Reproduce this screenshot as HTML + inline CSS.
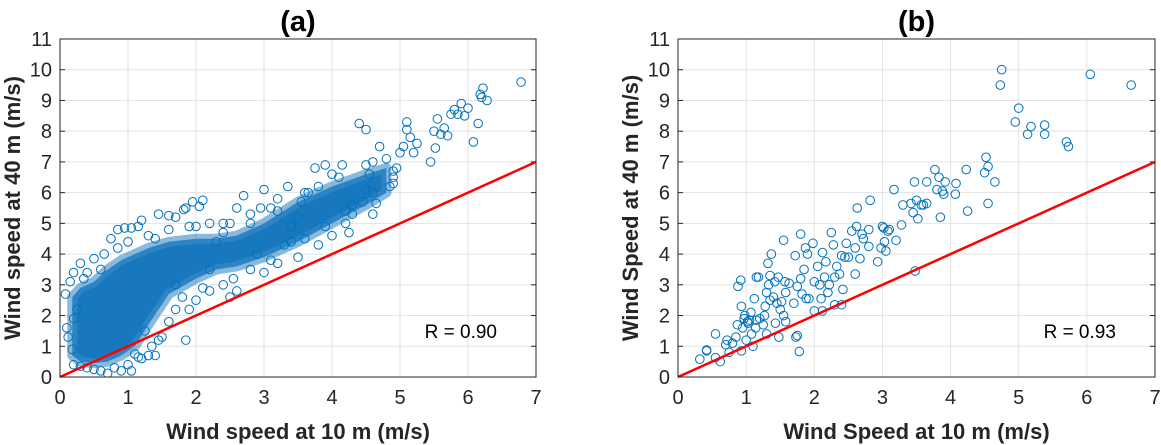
<!DOCTYPE html>
<html><head><meta charset="utf-8"><style>
html,body{margin:0;padding:0;background:#fff;}
svg{display:block;font-family:"Liberation Sans",sans-serif;}
</style></head><body>
<svg id="chart" width="1161" height="445" viewBox="0 0 1161 445" xmlns="http://www.w3.org/2000/svg"></svg>
<script>
const xTicks=[0,1,2,3,4,5,6,7];
const yTicks=[0,1,2,3,4,5,6,7,8,9,10,11];
const panelTitles=["(a)","(b)"];
const xTitles=["Wind speed at 10 m (m/s)","Wind Speed at 10 m (m/s)"];
const yTitles=["Wind speed at 40 m (m/s)","Wind Speed at 40 m (m/s)"];
const rLabels=["R = 0.90","R = 0.93"];
// dense core of panel a: [x, yLow, yHigh]
const coreBandA=[[0.18,0.7,2.6],[0.3,0.5,2.9],[0.5,0.45,3.1],[0.7,0.5,3.5],[0.9,0.7,3.8],[1.1,1.0,4.0],[1.3,1.7,4.2],[1.6,2.7,4.4],[2.0,3.2,4.5],[2.3,3.5,4.5],[2.6,3.6,4.6],[3.0,3.9,5.0],[3.5,4.4,5.7],[4.0,5.0,6.2],[4.5,5.6,6.6],[4.8,6.0,6.8]];
const seriesA=[[6.78,9.6],[6.22,9.4],[6.18,9.2],[6.28,9.0],[6.2,9.1],[6.0,8.75],[5.95,8.5],[5.9,8.9],[5.85,8.55],[5.8,8.7],[5.75,8.55],[5.55,8.4],[5.5,8.0],[5.6,7.9],[5.65,8.1],[5.7,7.85],[6.15,8.25],[6.08,7.65],[5.52,7.45],[5.45,7.0],[5.25,7.6],[5.2,7.3],[5.15,7.8],[5.1,8.3],[5.1,8.05],[5.05,7.5],[5.0,7.3],[4.95,6.8],[4.9,6.5],[4.85,6.2],[4.7,7.5],[4.6,7.0],[4.55,6.6],[4.5,6.1],[4.45,5.7],[4.4,8.25],[4.5,8.05],[4.6,5.3],[4.65,5.65],[4.3,5.3],[4.25,4.7],[4.2,5.0],[4.15,6.9],[4.0,6.6],[3.9,6.9],[3.75,6.8],[3.8,6.2],[3.65,6.0],[3.55,5.7],[3.5,5.2],[3.4,4.9],[3.35,6.2],[3.2,5.8],[3.1,5.5],[3.0,6.1],[2.95,5.5],[2.8,5.3],[2.7,5.9],[2.6,5.5],[2.5,5.0],[2.4,4.7],[2.3,4.4],[2.2,5.0],[2.1,5.75],[2.05,5.55],[1.95,5.7],[1.9,4.9],[1.85,5.5],[1.82,5.45],[1.7,5.2],[1.6,5.25],[1.45,5.3],[1.4,4.5],[1.2,5.1],[1.15,4.9],[1.05,4.85],[0.95,4.85],[0.85,4.8],[0.75,4.5],[0.65,4.0],[0.5,3.85],[0.4,3.4],[0.3,3.7],[0.2,3.4],[0.15,3.1],[0.08,2.7],[0.1,1.6],[0.12,1.3],[0.18,0.9],[0.2,0.4],[0.3,0.35],[0.4,0.3],[0.5,0.25],[0.6,0.2],[0.7,0.12],[0.8,0.3],[0.9,0.2],[1.0,0.4],[1.05,0.2],[1.1,0.75],[1.15,0.65],[1.2,0.6],[1.3,0.7],[1.4,0.7],[1.45,1.2],[1.5,1.3],[1.85,1.2],[1.6,1.8],[1.9,2.2],[2.0,2.5],[2.2,2.8],[2.4,3.0],[2.6,2.8],[2.8,3.5],[3.0,3.4],[3.2,3.7],[3.5,3.9],[3.8,4.3],[4.0,4.6],[4.2,5.4],[2.55,3.2],[2.5,2.6],[3.6,4.5],[3.3,4.3],[3.1,3.8],[1.7,2.2],[1.8,2.6],[2.1,2.9],[1.35,1.0],[1.25,1.5],[0.25,2.2],[0.2,1.9],[0.35,3.2],[0.6,3.5],[0.85,4.2],[1.0,4.4],[1.3,4.6],[1.6,4.8],[2.0,4.9],[2.4,5.0],[2.8,5.0],[3.2,5.4],[3.6,6.0],[4.1,6.5],[4.5,6.9],[4.8,7.1],[4.9,6.7],[4.9,6.3],[4.6,6.0],[4.3,5.6],[3.9,4.9],[3.4,4.4],[2.9,4.0],[2.2,3.5],[1.7,3.0]];
const seriesB=[[0.32,0.58],[0.42,0.88],[0.42,0.85],[0.55,1.4],[0.55,0.63],[0.62,0.5],[0.7,1.05],[0.72,1.2],[0.75,0.8],[0.8,1.1],[0.85,1.3],[0.87,1.7],[0.88,2.95],[0.92,3.15],[0.93,2.3],[0.93,0.85],[0.95,1.6],[0.97,1.9],[0.98,2.0],[1.0,1.2],[1.02,1.8],[1.03,1.75],[1.05,1.85],[1.07,2.1],[1.08,1.4],[1.1,1.0],[1.12,2.55],[1.14,1.6],[1.15,1.85],[1.15,3.25],[1.18,3.25],[1.2,1.9],[1.25,1.7],[1.27,2.0],[1.28,2.3],[1.3,2.75],[1.3,1.4],[1.32,3.7],[1.33,3.0],[1.35,3.3],[1.35,2.5],[1.37,4.0],[1.4,2.6],[1.42,3.1],[1.43,1.75],[1.45,2.4],[1.47,3.25],[1.48,1.3],[1.5,2.2],[1.52,2.45],[1.55,4.45],[1.55,2.0],[1.57,3.1],[1.58,2.75],[1.58,1.8],[1.63,3.05],[1.7,2.4],[1.72,3.95],[1.73,1.3],[1.75,1.35],[1.75,2.95],[1.78,0.83],[1.8,4.65],[1.8,3.2],[1.82,2.7],[1.85,3.5],[1.87,4.2],[1.88,2.55],[1.9,4.0],[1.92,2.55],[1.98,4.35],[2.0,2.15],[2.0,3.1],[2.05,3.6],[2.08,3.0],[2.1,2.55],[2.12,4.05],[2.12,2.15],[2.15,3.25],[2.17,3.75],[2.2,2.75],[2.22,3.0],[2.25,4.7],[2.28,4.3],[2.3,3.25],[2.3,2.35],[2.33,3.6],[2.37,3.35],[2.4,2.35],[2.4,3.95],[2.42,2.85],[2.45,3.9],[2.47,4.35],[2.5,3.9],[2.55,4.75],[2.6,4.2],[2.6,3.35],[2.62,4.9],[2.63,5.5],[2.67,3.85],[2.7,4.65],[2.72,4.5],[2.8,4.8],[2.8,4.25],[2.82,5.75],[2.93,3.75],[2.98,4.2],[3.0,4.9],[3.02,4.85],[3.03,4.4],[3.05,4.1],[3.08,4.75],[3.1,4.8],[3.17,6.1],[3.2,4.45],[3.28,4.95],[3.3,5.6],[3.42,5.65],[3.45,5.35],[3.47,6.35],[3.48,3.45],[3.5,5.75],[3.52,5.15],[3.57,5.6],[3.6,5.6],[3.65,5.65],[3.65,6.35],[3.77,6.75],[3.8,6.1],[3.83,6.5],[3.85,5.2],[3.88,6.05],[3.9,5.95],[3.92,6.35],[4.07,5.95],[4.08,6.3],[4.23,6.75],[4.25,5.4],[4.5,6.65],[4.52,7.15],[4.55,6.85],[4.55,5.65],[4.65,6.35],[4.73,9.5],[4.75,10.0],[4.95,8.3],[5.0,8.75],[5.13,7.9],[5.18,8.15],[5.38,7.9],[5.38,8.2],[5.7,7.65],[5.73,7.5],[6.05,9.85],[6.65,9.5]];
const fitLine=[[0,0],[7,7]];

const svg=document.getElementById('chart');
const NS='http://www.w3.org/2000/svg';
function mk(tag,attrs,parent){const e=document.createElementNS(NS,tag);for(const k in attrs)e.setAttribute(k,attrs[k]);(parent||svg).appendChild(e);return e;}
const panels=[{x0:60,x1:536,series:seriesA,band:coreBandA,key:'a'},{x0:678,x1:1155,series:seriesB,band:null,key:'b'}];
const yTop=39,yBot=377;
panels.forEach((p,i)=>{
  const xs=v=>p.x0+(v-0)/(7-0)*(p.x1-p.x0);
  const ys=v=>yBot-(v-0)/(11-0)*(yBot-yTop);
  const g=mk('g',{});
  
  
  const clipId='clip'+i;
  const cp=mk('clipPath',{id:clipId},g);mk('rect',{x:p.x0,y:yTop,width:p.x1-p.x0,height:yBot-yTop},cp);
  xTicks.forEach(t=>{
    const l=mk('line',{x1:xs(t),x2:xs(t),y1:yTop,y2:yBot,stroke:'#e3e3e3','stroke-width':1},g);
    
    const tx=mk('text',{x:xs(t),y:yBot+27,'text-anchor':'middle','font-size':20,fill:'#262626'},g);
    tx.textContent=t;
  });
  yTicks.forEach(t=>{
    const l=mk('line',{x1:p.x0,x2:p.x1,y1:ys(t),y2:ys(t),stroke:'#e3e3e3','stroke-width':1},g);
    
    mk('line',{x1:p.x0,x2:p.x0+5,y1:ys(t),y2:ys(t),stroke:'#262626'},g);
    mk('line',{x1:p.x1,x2:p.x1-5,y1:ys(t),y2:ys(t),stroke:'#262626'},g);
    const tx=mk('text',{x:p.x0-8,y:ys(t)+7,'text-anchor':'end','font-size':20,fill:'#262626'},g);
    tx.textContent=t;
  });
  const pts=mk('g',{'clip-path':'url(#'+clipId+')'},g);
  
  
  if(p.band){
    let d='M'+p.band.map(b=>xs(b[0])+','+ys(b[2])).join(' L')+' L'+p.band.slice().reverse().map(b=>xs(b[0])+','+ys(b[1])).join(' L')+'Z';
    const b=mk('path',{d:d,fill:'#1878bd',stroke:'#3a8cc8','stroke-width':10,'stroke-linejoin':'round','stroke-opacity':0.6},pts);
    
  }
  p.series.forEach(s=>{
    const c=mk('circle',{cx:xs(s[0]),cy:ys(s[1]),r:4.3,fill:'none',stroke:'#0072BD','stroke-width':1},pts);
    
  });
  const fl=mk('line',{x1:xs(fitLine[0][0]),y1:ys(fitLine[0][1]),x2:xs(fitLine[1][0]),y2:ys(fitLine[1][1]),stroke:'#ff0000','stroke-width':2.5},g);
  
  const fr=mk('rect',{x:p.x0,y:yTop,width:p.x1-p.x0,height:yBot-yTop,fill:'none',stroke:'#262626','stroke-width':1},g);
  
  const r=mk('text',{x:xs(6.5)-5,y:ys(1.5)+7,'text-anchor':'end','font-size':19,fill:'#000'},g);
  r.textContent=rLabels[i];
  const tt=mk('text',{x:(p.x0+p.x1)/2,y:31,'text-anchor':'middle','font-size':29,'font-weight':'bold',fill:'#000'},g);
  tt.textContent=panelTitles[i];
  const xt=mk('text',{x:(p.x0+p.x1)/2,y:439,'text-anchor':'middle','font-size':22,'font-weight':'bold',fill:'#262626'},g);
  xt.textContent=xTitles[i];
  const yc=(yTop+yBot)/2;
  const yx=p.x0-40;
  const yt=mk('text',{x:yx,y:yc,'text-anchor':'middle','font-size':22,'font-weight':'bold',fill:'#262626',transform:'rotate(-90 '+yx+' '+yc+')'},g);
  yt.textContent=yTitles[i];
});
</script>
</body></html>
